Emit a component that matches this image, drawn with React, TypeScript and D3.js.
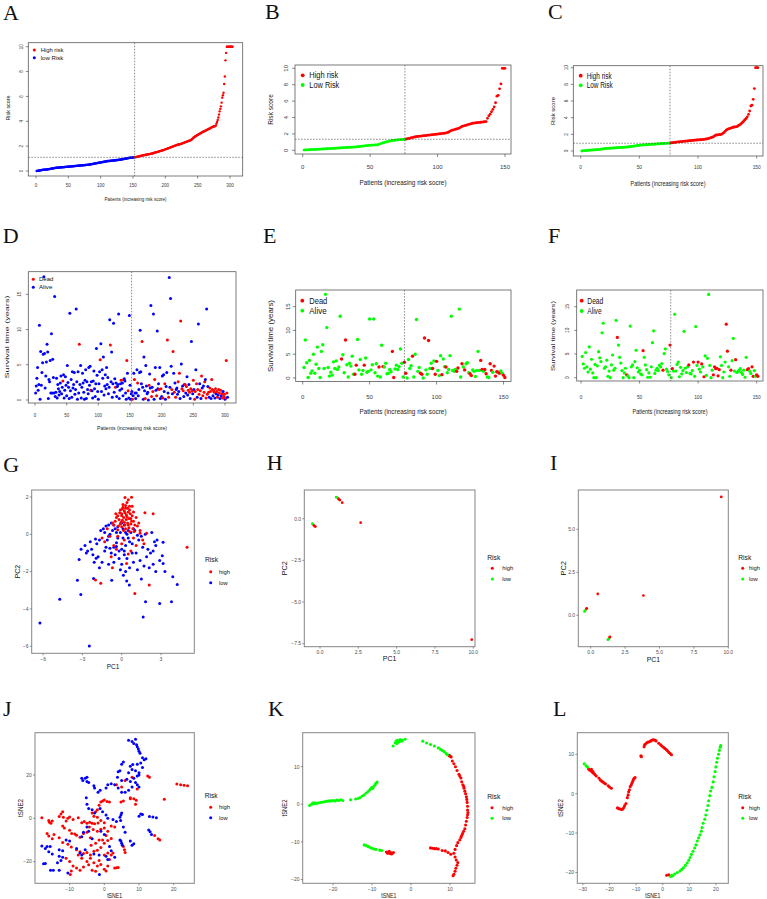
import React from "react";
import * as d3 from "d3";

const RED = "#FF0000";
const BLUE = "#0000FF";
const GREEN = "#00FF00";
const SANS = "'Liberation Sans', Arial, Helvetica, sans-serif";
const SERIF = "'Liberation Serif', 'Times New Roman', Times, serif";

// ---------- A : risk score (training set) ----------
const aLow = [0,.01,.02,.03,.04,.05,.06,.07,.08,.09,.1,.1,.11,.11,.12,.12,.13,.14,.14,.15,
.16,.17,.18,.19,.2,.21,.22,.23,.24,.25,.26,.26,.27,.27,.28,.28,.29,.29,.3,.3,
.3,.31,.31,.32,.32,.33,.33,.34,.34,.35,.35,.36,.36,.37,.37,.38,.38,.39,.39,.4,
.4,.41,.41,.42,.42,.43,.43,.44,.44,.45,.45,.46,.46,.47,.47,.48,.48,.49,.49,.5,
.5,.51,.52,.53,.54,.55,.56,.57,.58,.59,.6,.61,.62,.63,.64,.65,.66,.67,.68,.69,
.7,.71,.72,.73,.74,.75,.76,.77,.78,.79,.8,.8,.81,.81,.82,.82,.83,.83,.84,.85,
.85,.86,.86,.87,.88,.88,.89,.9,.9,.91,.92,.93,.94,.95,.96,.97,.98,.99,1,1.01,
1.02,1.03,1.04,1.05,1.06,1.06,1.07,1.08,1.08,1.09,1.1,1.1];
const aHigh = [1.11,1.12,1.13,1.14,1.15,1.16,1.18,1.2,
1.21,1.22,1.23,1.24,1.26,1.27,1.28,1.29,1.3,1.31,1.32,1.33,1.34,1.35,1.36,1.37,1.38,1.39,1.4,1.41,
1.43,1.45,1.47,1.48,1.5,1.51,1.52,1.54,1.56,1.57,1.59,1.6,1.62,1.64,1.65,1.67,1.68,1.7,1.72,1.74,
1.76,1.78,1.8,1.82,1.84,1.86,1.88,1.9,1.92,1.94,1.96,1.98,2,2.02,2.04,2.06,2.08,2.1,2.12,2.13,
2.14,2.15,2.16,2.18,2.2,2.22,2.24,2.26,2.28,2.3,2.32,2.34,2.36,2.38,2.4,2.42,2.44,2.46,2.48,2.5,
2.55,2.6,2.65,2.7,2.74,2.78,2.8,2.84,2.88,2.9,2.94,2.97,3,3.03,3.06,3.09,3.12,3.15,3.18,3.2,
3.22,3.25,3.28,3.3,3.32,3.35,3.38,3.4,3.43,3.46,3.49,3.52,3.55,3.57,3.58,3.6,3.62,3.65,
3.8,3.95,4.1,4.3,4.55,4.8,5,5.2,5.5,5.9,6.1,6.3,7,7.6,8.9,9.5,
10,10,10,10,10,10,10,10,10,10];

// ---------- B : risk score ----------
const bLow = [.03,.04,.05,.06,.07,.08,.09,.1,.1,.11,.12,.13,.14,.15,.16,.17,.18,.19,.2,.21,
.22,.23,.24,.25,.26,.27,.28,.29,.3,.31,.32,.33,.34,.35,.36,.37,.38,.39,.4,.42,
.44,.46,.48,.5,.52,.54,.56,.58,.6,.61,.62,.63,.64,.65,.66,.7,.76,.82,.88,.93,
.98,1.02,1.06,1.1,1.14,1.17,1.2,1.22,1.24,1.26,1.28,1.3,1.31,1.32,1.33,1.34];
const bHigh = [1.38,1.42,1.46,1.5,1.54,1.58,1.62,1.66,1.68,1.7,1.72,1.74,1.76,1.78,1.8,1.82,1.84,1.86,1.88,1.9,
1.92,1.94,1.96,1.98,2,2.02,2.04,2.06,2.08,2.1,2.15,2.2,2.3,2.4,2.45,2.5,2.55,2.6,2.65,2.7,
2.8,2.9,2.95,3,3.05,3.1,3.15,3.2,3.25,3.3,3.32,3.34,3.36,3.38,3.4,3.42,3.44,3.46,3.48,3.5,
3.9,4.2,4.4,4.7,5,5.3,5.8,6.6,6.7,7.5,8.1,10,10,10];

// ---------- C : risk score ----------
const cLow = [0,.02,.04,.05,.06,.08,.09,.1,.11,.12,.13,.14,.15,.16,.17,.19,.21,.23,.25,.27,
.29,.3,.31,.32,.33,.34,.35,.36,.37,.38,.39,.4,.41,.42,.43,.44,.45,.46,.47,.48,
.5,.52,.54,.56,.58,.6,.62,.64,.66,.68,.7,.71,.72,.73,.74,.75,.76,.77,.78,.79,
.8,.81,.82,.83,.84,.85,.86,.87,.88,.89,.9,.91,.92,.93,.94,.95];
const cHigh = [.97,.99,1.01,1.03,1.05,1.07,1.09,1.1,1.12,1.13,1.15,1.16,1.18,1.19,1.2,1.22,1.24,1.25,1.27,1.28,
1.3,1.31,1.32,1.33,1.34,1.35,1.36,1.38,1.4,1.42,1.44,1.46,1.5,1.55,1.6,1.65,1.7,1.8,1.9,1.92,
1.94,1.96,1.98,2,2.1,2.2,2.35,2.5,2.6,2.65,2.7,2.75,2.8,2.85,2.88,2.9,2.92,3,3.1,3.2,
3.3,3.45,3.6,3.75,3.9,4.1,4.4,4.8,5.4,5.5,6.2,7.5,10,10,10];

// ---------- D : survival time (years) ----------
const dTime = [1.0,2.0,3.1,4.6,1.4,2.2,10.6,0.1,6.9,2.1,3.9,5.3,6.5,17.5,6.6,1.7,
3.4,5.4,7.9,6.8,0.2,2.9,2.6,5.6,1.0,9.4,1.0,5.8,3.2,1.0,14.7,0.5,
1.1,3.1,0.3,2.2,1.6,0.7,1.2,2.4,3.4,0.9,1.8,2.7,3.6,0.3,1.4,3.3,
2.1,0.6,4.9,2.5,1.8,0.2,12.3,1.3,2.9,0.4,4.0,1.7,2.2,3.9,0.8,1.5,
12.9,2.6,0.1,4.0,1.0,7.9,2.2,4.9,0.3,1.8,3.8,2.4,1.1,0.1,2.8,4.3,
0.2,2.6,1.5,0.9,4.6,2.1,4.8,1.4,2.6,1.3,0.3,2.7,4.1,1.6,0.5,2.3,
7.3,3.5,1.2,0.1,2.3,4.0,5.7,8.0,1.2,4.3,3.1,6.1,0.7,2.0,3.6,1.6,
4.6,2.2,3.2,0.9,1.8,11.4,7.8,2.6,6.8,0.4,2.3,10.9,1.1,3.0,1.8,2.4,
0.5,1.9,2.2,12.2,0.2,1.4,2.3,2.8,1.6,2.4,0.6,2.9,3.0,2.7,1.0,0.1,
5.6,3.8,1.3,0.3,12.0,2.1,0.1,0.9,1.2,0.1,0.6,3.8,2.9,1.0,0.2,1.0,
4.3,2.4,0.6,1.5,3.9,9.9,4.0,2.3,8.3,1.8,0.1,6.1,1.3,0.2,4.9,2.0,
0.9,1.1,0.0,2.1,3.7,1.7,13.4,0.5,1.8,1.2,12.2,0.1,2.9,4.6,1.4,0.6,
9.8,1.6,2.3,1.5,4.6,0.2,1.6,0.5,3.4,0.3,3.6,1.2,2.3,0.1,1.9,3.9,
8.5,1.0,0.4,17.4,1.8,14.4,4.8,1.5,0.9,6.9,3.8,1.1,2.4,0.4,1.5,1.7,
0.8,2.6,1.2,3.8,0.2,11.2,5.1,1.6,2.0,1.3,0.5,2.2,2.2,1.0,1.9,3.3,
0.7,1.4,2.2,1.1,0.2,1.6,8.3,1.3,0.9,2.8,1.5,0.1,1.2,4.3,2.3,0.4,
1.5,10.8,0.8,2.3,1.3,0.2,3.4,1.7,0.6,2.0,1.1,2.6,2.9,0.3,12.9,0.8,
1.9,1.1,0.4,1.7,1.2,0.2,2.9,1.5,0.6,1.3,1.1,0.3,1.6,0.9,1.2,0.4,
0.7,1.5,1.0,0.2,1.4,0.6,0.9,0.3,1.2,0.5,0.8,0.1,0.3,5.6,1.0,0.4];
const dDead = [44,70,88,103,119,127,136,140,145,147,154,157,162,169,174,180,184,186,189,192,196,199,202,205,209,
211,216,218,220,222,226,228,230,232,234,237,239,242,244,246,248,250,252,253,255,257,259,261,263,265,267,268,
270,272,274,276,277,279,280,282,283,285,287,288,290,291,293,295,296,298,299,301,302,303];

// ---------- E : survival time ----------
const eTime = [2.2,8.0,3.2,0.1,3.7,1.0,1.5,5.0,1.0,2.9,6.5,2.0,0.1,5.6,7.0,2.0,17.6,10.6,2.2,0.4,
1.2,0.6,3.4,2.0,3.6,1.8,2.3,13.0,4.0,4.9,1.1,8.0,2.8,0.2,3.1,2.5,4.6,0.8,0.8,2.7,
8.1,1.7,3.9,0.8,1.6,2.7,4.2,1.2,1.4,12.4,1.7,2.8,12.4,1.1,3.0,0.4,2.3,0.2,6.9,2.4,
2.3,3.1,0.9,1.0,1.8,1.3,5.6,0.1,1.9,2.7,1.8,2.4,6.1,3.1,0.2,3.3,
1.0,0.0,3.9,2.0,2.6,4.6,0.2,5.0,12.3,1.4,2.2,1.0,0.8,0.0,8.4,1.7,0.8,7.9,2.0,3.1,
2.0,3.6,0.8,3.5,1.6,0.5,4.7,0.7,4.0,2.4,2.3,1.1,1.8,4.7,13.0,1.6,1.4,1.8,1.4,2.1,
14.5,0.2,3.0,2.3,1.7,3.0,3.2,1.1,0.9,0.5,1.7,1.4,0.3,1.6,5.6,1.6,3.7,1.8,1.4,1.8,
0.9,0.2,0.1,3.0,1.6,1.2,2.5,0.4,1.3,1.2,1.0,1.5,1.0,0.6,0.1];
const eDead = [29,32,39,40,46,57,60,67,68,76,77,82,88,89,91,94,97,99,100,104,107,115,116,119,121,125,126,
133,134,136,137,140,141,143,144,145,146,147,150,151];

// ---------- F : survival time ----------
const fTime = [4.5,2.9,2.0,5.3,2.3,1.2,6.5,1.8,3.9,1.0,0.0,2.8,0.0,2.5,5.5,4.2,3.4,9.5,11.5,2.0,
2.3,3.7,0.3,1.4,0.0,2.7,4.8,1.6,2.0,12.1,8.5,6.9,4.3,3.1,1.5,0.0,1.0,2.0,0.6,0.4,
0.0,10.9,2.3,2.7,0.0,3.4,5.8,2.1,1.2,1.6,0.8,0.6,5.7,4.3,2.7,1.7,0.1,1.0,0.1,2.3,
7.4,9.9,0.9,1.6,2.0,1.5,2.6,2.3,3.0,1.6,5.1,6.1,1.8,1.3,0.6,6.9,
0.0,1.9,1.4,13.4,1.4,2.8,3.3,0.2,2.2,0.8,1.5,9.8,2.0,1.1,2.3,2.7,0.9,0.8,1.5,3.3,
0.3,10.8,2.6,3.3,1.8,1.2,2.9,2.3,0.2,4.6,0.5,4.1,17.6,2.6,0.0,1.6,0.6,2.3,1.9,2.0,
0.4,1.7,4.4,2.6,0.0,1.2,3.3,11.3,5.6,2.3,0.3,1.6,3.6,8.3,1.4,3.8,1.1,1.3,1.6,1.9,
1.1,0.7,1.6,0.1,4.3,1.7,1.9,1.4,0.9,2.3,0.3,1.5,0.3,0.6,0.3];
const fDead = [31,39,53,70,76,78,92,96,100,103,105,113,114,115,116,117,118,124,125,128,132,142,143,146,147,150,151];

// ---------- G : PCA ----------
const gHigh = [[0.25,1.97],[0.75,1.99],[0.1,1.6],[0.4,1.7],[-0.1,1.3],[0.3,1.4],[0.6,1.5],[0,1.1],[0.5,1.2],[0.2,1.25],
[-0.3,1],[0.8,1],[0.35,1.05],[0.15,0.9],[-0.2,0.8],[0.55,0.85],[0.9,0.7],[-0.5,0.7],[0.05,0.75],[0.7,0.55],
[-0.4,0.9],[0.45,0.6],[0.25,0.5],[-0.1,0.55],[1,0.5],[1.2,0.45],[-0.6,0.5],[0.6,1.3],[0.3,0.3],[0,0.4],
[-0.3,0.25],[0.85,0.3],[0.4,0.95],[0.1,1.45],[0.65,1.1],[0.2,0.65],[-0.15,1.15],[0.5,1.85],[0.3,1.55],[0,1],
[0.9,1.2],[1.1,0.9],[-0.7,0.6],[0.7,0.85],[0.15,0.2],[0.55,0.35],[-0.25,0.45],[0.35,0.8],[1.3,0.6],[0.95,0.15],
[0.45,1.4],[-0.05,0.65],[0.75,0.7],[0.25,1.15],[0.6,0.15],[0.05,1.35],[0.5,0.5],[-0.45,1.1],[1.4,0.2],[0.8,1.5],
[1.77,1.16],[2.4,1.1],[4.99,-0.7],[1,-3.17],[2.1,-2.72],[-0.71,-1.8],[-2,-2.45],[-1.6,-2.63],[0.37,-1.56],[0.5,-1.06],
[1.7,-0.5],[1.6,-0.3],[1.4,0.05],[-0.9,-0.1],[-1.5,-0.2],[-0.6,-0.6],[0.2,-0.3],[-0.4,-0.8],[0.9,-0.2],[-1.1,0.3],
[-0.8,-1.2],[1.9,0.05],[1.1,-0.6],[-1.3,-0.4],[0,-0.5],[0.7,-0.9],[-0.3,-0.1]];
const gLow = [[-6.24,-4.75],[-2.47,-5.99],[-4.73,-3.48],[-3.12,-3.23],[-3.38,-2.47],[-3.25,-1.35],[1.64,-4.43],[1.82,-3.62],[2.9,-3.71],[3.8,-3.62],
[4.24,-2.69],[3.9,-2.28],[3.16,-1.56],[3.16,-0.43],[0.13,-2.2],[0.38,-2.5],[0.58,-2.72],[-0.76,-2.46],[-2.15,-2.37],[-1.95,-1.29],
[-2.8,-0.6],[-2.6,-0.9],[-2.7,-1],[-2.3,-0.8],[-1.9,-0.5],[-2,-0.25],[-1.6,0.2],[-1.4,0.3],[-1.2,0.45],[-1,0.5],
[-0.8,0.6],[-1.5,-1.5],[-1.7,-1.8],[-1.2,-0.7],[-0.9,-0.75],[-0.6,-0.7],[-0.4,-0.45],[-0.2,-1.3],[0,-1.6],[0.2,-0.9],
[0.4,-1.3],[0.6,-1.8],[0.9,-1.5],[1.1,-1],[1.3,-0.3],[1.5,-0.1],[1.8,0],[2,-0.8],[2.2,-1],[2.4,-0.9],
[2.5,-0.4],[2.6,-0.6],[2.4,-1.6],[2.1,-1.8],[2.6,-2],[2.9,-1.4],[3.1,-1.15],[3.3,-2],[1.2,-1.9],[1.5,-2.4],
[-0.3,-0.2],[-0.1,0.1],[0.1,0.3],[0.3,0.1],[0.5,-0.2],[0.7,0.1],[0.9,0.3],[-0.5,0.3],[-0.7,0.2],[-1,-0.1],
[-1.1,-0.3],[-0.3,0.4],[0.2,0.5],[0.5,0.2],[1,0.2],[1.2,-0.05],[0.8,-0.5],[0.6,-0.4],[0.3,-0.6],[0,-0.8],
[-0.2,-0.9],[-0.5,-1.1],[-0.8,-1],[-1.3,-0.9],[-1.8,-1.2],[-2.1,-1.5],[-0.9,0],[-0.6,0.5],[0.1,-0.2],[0.4,0],
[-0.4,-0.65],[1.6,-0.7],[1.9,-1.2],[0.8,-1],[1.4,-1.4],[-0.1,-1.9],[-1,-1.6],[0.2,-1.1],[0,0.6],[-0.4,0.1],
[-1.3,0.1],[-1.7,-0.3],[2.3,0.1],[2.7,-0.3],[1.7,-1.7],[0.3,-2],[-0.6,-1.5],[-2.4,-0.4],[-3.1,-0.8],[-2.2,-1.1]];

// ---------- H, I : PCA ----------
const hLow = [[-0.5,-0.3],[1.09,1.28],[1.05,1.3]];
const hHigh = [[-0.42,-0.38],[-0.36,-0.44],[-0.3,-0.47],[1.2,1.2],[1.25,1.15],[1.3,1.12],[1.45,0.96],[2.65,-0.24],[9.9,-7.26]];
const iLow = [[-0.41,0.27],[-0.45,0.22],[1.3,-1.38],[1.25,-1.42]];
const iHigh = [[-0.29,0.41],[-0.32,0.36],[0.51,1.24],[3.83,1.15],[9.49,6.88],[1.4,-1.25],[1.36,-1.3]];

// ---------- J : tSNE ----------
const jHigh = [[-18,0.3],[-16,-1],[-15.8,-1.8],[-15.4,-2.3],[-15,-1.2],[-13,0.8],[-12.5,2],[-12,3],[-11.8,0.5],[-11,-1.3],
[-10.5,0],[-10,0.6],[-9,-0.5],[-7.5,0.2],[-6.5,-2],[-5.8,-1.5],[-5,-2.3],[-4.2,-1.8],[-3.5,-2.3],[-2.8,-2.5],
[-1.8,-2.2],[-12,-3.5],[-11.5,-4.5],[-10,-5.5],[-9.4,-7],[-8.5,-7.2],[-8,-7.8],[-7,-8.8],[-6,-7],[-5,-6.5],
[-4.3,-4],[-3.2,-5.2],[-2,-6],[-1,-5],[0,-4.5],[1,-6],[-16.5,-7],[-16,-8.2],[-15,-9.4],[-14.5,-7.5],
[-13,-9],[-12,-11.2],[-10.5,-12],[-9.5,-13.2],[-8,-14.5],[-7,-15.5],[-6,-16.3],[-5,-15.8],[-4,-17],[-3,-15.2],
[-2,-14.8],[-1,-13.5],[0,-11.5],[1,-10.2],[2,-9.3],[-1.5,-10],[-2.5,-11.5],[-3.8,-12.5],[-11,-18.5],[-10,-20],
[-9,-22],[-8,-23],[-9.5,-24.3],[-9.8,-26],[-7,-24],[-6,-22.5],[-5,-20],[-4,-18.5],[-3,-20.5],[-2,-22],
[-1,-21.3],[0,-23.5],[0.5,-24.3],[1,-22],[1.5,-19],[2,-17],[2.5,-16],[3,-23],[3.5,-22.8],[4,-22.7],
[-7.5,-17],[-6.5,-18.5],[-4.5,-21.5],[-3.5,-24],[-2.5,-24.5],[-1.5,-19.5],[0,-17],[1,-16],[-0.5,-10],[0.5,-8],
[-3,1],[-2.5,3],[-2,4],[-1.5,6],[-1,7.5],[-0.5,8],[0,8.5],[0.8,7.8],[1.5,7.5],[-3.5,2.5],
[-2,0.5],[-1,-1],[0,-2],[2,-3.5],[3,-4],[4.8,7.5],[5.5,8],[7.5,9.5],[8.5,9],[9.2,8.3],
[9,6.5],[5,14.5],[3.5,15.5],[6,17.5],[8,19],[12.5,19.5],[13,19],[9.5,13.5],[20.9,15.8],[22,15.5],
[23,15.3],[24,15],[17.3,8.8],[15.5,-9.5],[16,-10],[14.5,-8],[5.5,-13],[5.8,-14.5],[6,-15.8],[7.5,9],[-4,-9]];
const jLow = [[7,36],[8,35.5],[8.5,34.5],[9,36.5],[9.3,34],[9.5,33],[9.8,32],[10,31],[10.3,30],[11,28],
[11.5,27],[12,27.5],[10.5,25.5],[9.5,25],[8.2,24.8],[7.5,24],[11,23.5],[9,22],[8,22.5],[10,21],
[7,21],[5.5,26],[5,25],[4.5,22],[4,21.5],[3.8,19],[5,17.5],[6.5,18],[7.5,17],[8.5,18.5],
[9.5,19.5],[10,20],[9,16.5],[9.5,15.5],[10,14.5],[8,14.5],[7,13],[6,12],[5,12],[4,14],
[3,15.5],[2,16],[1,15.5],[0.5,14],[-1.2,13],[-1.8,12],[-2.8,14],[-3,15],[-5,19],[-5.5,18.5],
[-6.2,17.5],[-6.5,18.5],[-5,17],[-4.5,16.5],[-5.2,9.5],[-5,6.5],[-4.5,4.5],[-3.5,4],[-2.8,2.5],[-1.2,4.5],
[-0.5,3],[0.5,1.5],[1,0],[2.5,-0.5],[3.5,-1.5],[4.5,0.5],[4.8,1.5],[5,2.5],[4.7,-1],[10,1],
[10.5,2],[11,1.8],[13,0.8],[14,0.6],[15,0.2],[12.8,-5.4],[13.2,-6.2],[13.6,-7.5],[8.5,-11.8],[8,-12.5],
[4.5,-10],[5,-11.5],[5.2,-12.5],[4.8,-10.5],[-5,-4],[-4.5,-6],[-3.5,-9.5],[-6,-6.5],[-6.5,-8.5],[-12,-15],
[-13,-14.5],[-15.6,-13],[-16.5,-13],[-17,-14],[-18,-12.8],[-16,-15.5],[-15,-16.5],[-13,-17.5],[-12,-18],[-12.5,-19.5],
[-13.5,-20.5],[-17,-20.9],[-17.5,-21],[-14.7,-24],[-15.5,-24],[-13,-24],[-10.5,-25.3],[-1.4,-26],[-11,-10],[-10,-10.5],
[-8,-14],[-7,-16],[-6.5,-17],[-5.5,-14.5],[-3,-16.5],[-1.5,-17],[0.5,-17.5],[1,-19],[-1,-6],[0,-7.5],
[1.5,-13],[2,-15],[3,-18],[7.5,-10.5],[5.5,-4],[6,-6.5]];

// ---------- K : tSNE ----------
const kLow = [[-26,-0.3],[-25.5,0],[-25.2,0.3],[-25,0.1],[-24.8,0.4],[-24.5,0.2],[-24,0.3],[-23.5,0.4],[-23,0.5],[-22.5,0.6],
[-22,0.7],[-21.5,0.8],[-21,0.9],[-20.5,0.9],[-20,1],[-19.5,0.9],[-19,1.1],[-18.5,1],[-18,1.2],[-17.5,1],
[-15.5,1.2],[-14.2,1.4],[-13.5,1.6],[-13,1.8],[-12.5,2.2],[-12,2.5],[-11.5,3],[-11,3.4],[-10.6,3.8],[-10.3,4.2],
[-10,4.5],[-9.8,4.2],[-9.5,4.8],[-9.2,5.2],[-9,5.6],[-8.7,5.9],
[-4.6,15.5],[-4,16.3],[-3.8,16.8],[-3.5,17],[-3.2,16.5],[-3,16.9],[-2.8,17.2],[-2.5,16.8],[-2.2,17],[-1.5,17.3],[-3.6,16.2],
[3,16.8],[4,16.3],[5,15.9],[6,15.5],[7,15],[7.6,14.6],[8,14.3],[8.5,14],[9,13.5],[9.3,13.2],
[-12,-10.8],[-11.5,-11],[-11,-11.2],[-10.5,-11.5],[-10,-11.7],[-9.5,-11.9],[-9,-12],[-8,-12.2],[-7.5,-12.3]];
const kHigh = [[9.8,13],[10,12.8],[10.3,12.6],[10.6,11.5],[11,10.8],[11.4,10],[11.8,9],[12.3,8],[12.5,7.5],[12.8,7],
[13,6],[13.3,5.2],[13.5,4.8],[13.6,4.3],[13.8,3.5],[14,2.8],[14.2,2],[14.3,1.3],[14.4,0.5],[14.5,-0.5],
[14.5,-1.5],[14.6,-2.2],[14.5,-2.8],[14.4,-3.5],[14.2,-4.5],[14,-5.5],[13.8,-6.5],[13.5,-7.2],[13.2,-7.8],[13,-8.3],
[12.8,-8.8],[12.5,-9.5],[12,-10.2],[11.7,-11],[11.3,-12],[11,-13],[11.3,-14],[11.6,-14.8],[12,-15.5],[11.8,-16.2],
[11.5,-17],[11.3,-17.8],[11,-18.6],[10.8,-19],
[5,-11.6],[5.5,-11.7],[6,-11.8],[6.5,-11.8],[7,-11.9],[8,-12.3],[8.8,-12.4],[9.5,-12.8],[10.2,-13.3],
[-6.3,-12.7],[-6,-13],[-5.7,-12.8],[-5.4,-13.1],[-5.1,-12.9],[-4.8,-13],[-4.5,-12.8],[-5.6,-12.5],[-5,-13.2]];

// ---------- L : tSNE ----------
const lHigh = [[-27.9,6.3],[-27.5,6],[-27,5.8],[-26.5,5.5],[-26,5.2],[-25.5,4.9],[-25,4.5],[-24,4],[-23.5,3.5],[-23,3.2],
[-22.5,3],[-22,2.7],[-21.5,2.5],[-20.5,2],[-20,1.7],[-19.3,1.4],[-26.8,6.2],[-26.2,5.6],
[-17,-3.6],[-16.5,-3.8],[-16,-3.9],[-15.5,-4],[-15,-3.9],[-14.6,-3.5],[-14.3,-3],[-13.8,-2.5],[-13.3,-1],[-13,-0.3],
[-12.8,0.5],[-12.5,1],[-12.2,1.8],[-11.8,2.3],[-11.5,2.8],[-11.2,3.2],[-11,3.6],[-10.7,3.9],[-10.4,4.1],
[-8.2,9.6],[-8,9.4],
[-7,11.9],[-6.8,12.4],[-6.5,12.6],[-6,12.9],[-5.5,13.1],[-5,13.2],[-4.5,13.4],[-4,13.6],[-3.5,13.7],[-3,13.6],
[-2.5,13.4],[-1.5,12.8],[-0.8,12.4],[-0.3,12.1],[0.3,11.8],[0.8,11.5],[1.3,11.2],[1.8,10.9],[2.3,10.5],[2.8,10.2],[3.3,9.9],
[1.5,-20.7],[2.3,-20.6]];
const lLow = [[-29.5,7.6],[-28.8,7.1],[-28.3,6.8],
[3.4,-20.7],[3,-21],[3.8,-20.9],[4.5,-20.4],[5.5,-20],[6.5,-19.6],[7.2,-19.2],[7.8,-18.8],[8.5,-18.2],[9.2,-17.6],
[9.8,-16.9],[10.3,-16.2],[10.8,-15.4],[11.4,-14.6],[12,-13.8],[12.5,-13],[13,-12],[13.5,-11.2],[14,-10.4],[14.5,-9.5],
[14.8,-8.6],[15.2,-7.5],[15.8,-6.5],[16.2,-5.4],[16.6,-4.2],[17,-3],[17.3,-1.8],[17.7,-0.5],[18,0.7],[18.5,1.6],
[19,3],[19.3,4.3],[19.7,5.6],[20,6.8],[20.3,8],[20.6,9],[21,10],[21.3,11],[21.6,11.8],[21.8,12.2]];

// ---------- tick values ----------
const ticks300 = [0, 50, 100, 150, 200, 250, 300];
const ticks150 = [0, 50, 100, 150];
const riskTicks = [0, 2, 4, 6, 8, 10];
const survTicks = [0, 5, 10, 15];
const gXT = [-6, -3, 0, 3];
const gYT = [-6, -4, -2, 0, 2];
const pcXT = [0, 2.5, 5, 7.5, 10];
const hYT = [-7.5, -5, -2.5, 0];
const iYT = [0, 2.5, 5];
const jXT = [-10, 0, 10, 20];
const jYT = [-20, 0, 20];
const kXT = [-20, -10, 0, 10];
const kYT = [-20, -10, 0, 10];
const lXT = [-30, -20, -10, 0, 10, 20];
const lYT = [-20, -10, 0, 10];

const fmt1 = (v: number) => d3.format(".1f")(v).replace("-", "\u2212");
const fmt0 = (v: number) => String(v).replace("-", "\u2212");

function Txt({ x, y, size, len, anchor = "middle", rot = false, fill = "#000", family = SANS, children }: any) {
  const common: any = {
    fontSize: size, fontFamily: family, fill, textAnchor: anchor,
  };
  if (len) { common.textLength = len; common.lengthAdjust = "spacingAndGlyphs"; }
  if (rot) return <text transform={`translate(${x},${y}) rotate(-90)`} {...common}>{children}</text>;
  return <text x={x} y={y} {...common}>{children}</text>;
}

function RPlot({ p, pts }: any) {
  const [x0, y0, x1, y1] = p.box;
  const xs = d3.scaleLinear().domain([p.xm[0], p.xm[2]]).range([p.xm[1], p.xm[3]]);
  const ys = d3.scaleLinear().domain([p.ym[0], p.ym[2]]).range([p.ym[1], p.ym[3]]);
  const ac = "#3a3a3a";
  const lg = p.legend;
  return (
    <g>
      {pts.map((d: any, i: number) => (
        <circle key={i} cx={xs(d.x)} cy={ys(d.y)} r={p.r} fill={d.c} />
      ))}
      {p.hLine != null && (
        <line x1={x0} x2={x1} y1={ys(p.hLine)} y2={ys(p.hLine)} stroke="#444" strokeWidth={0.6} strokeDasharray="1.6,1.4" />
      )}
      {p.vLine != null && (
        <line x1={xs(p.vLine)} x2={xs(p.vLine)} y1={y0} y2={y1} stroke="#444" strokeWidth={0.6} strokeDasharray="1.6,1.4" />
      )}
      <rect x={x0} y={y0} width={x1 - x0} height={y1 - y0} fill="none" stroke="#5a5a5a" strokeWidth={0.8} />
      {p.xTicks.map((t: number) => (
        <g key={"x" + t}>
          <line x1={xs(t)} x2={xs(t)} y1={y1} y2={y1 + p.tl} stroke={ac} strokeWidth={0.6} />
          <Txt x={xs(t)} y={p.xLabY} size={p.ts} fill={ac}>{t}</Txt>
        </g>
      ))}
      {p.yTicks.map((t: number) => (
        <g key={"y" + t}>
          <line x1={x0 - p.tl} x2={x0} y1={ys(t)} y2={ys(t)} stroke={ac} strokeWidth={0.6} />
          <Txt x={p.yLabX} y={ys(t)} size={p.ts} fill={ac} rot>{t}</Txt>
        </g>
      ))}
      {lg.items.map((it: any, i: number) => (
        <g key={"l" + i}>
          <circle cx={lg.dotX} cy={lg.ys[i]} r={lg.r} fill={it.color} />
          <Txt x={lg.textX} y={lg.ys[i] + lg.size * 0.36} size={lg.size} len={it.len} anchor="start" fill="#111">{it.label}</Txt>
        </g>
      ))}
      <Txt x={p.xTitle.x} y={p.xTitle.y} size={p.xTitle.size} len={p.xTitle.len} fill="#222">{p.xTitle.text}</Txt>
      <Txt x={p.yTitle.x} y={p.yTitle.y} size={p.yTitle.size} len={p.yTitle.len} fill="#222" rot>{p.yTitle.text}</Txt>
    </g>
  );
}

function GPlot({ p, series }: any) {
  const [x0, y0, x1, y1] = p.box;
  const xs = d3.scaleLinear().domain([p.xm[0], p.xm[2]]).range([p.xm[1], p.xm[3]]);
  const ys = d3.scaleLinear().domain([p.ym[0], p.ym[2]]).range([p.ym[1], p.ym[3]]);
  const tc = "#4d4d4d";
  const lg = p.legend;
  return (
    <g>
      <rect x={x0} y={y0} width={x1 - x0} height={y1 - y0} fill="#fff" />
      {series.map((s: any, si: number) =>
        s.pts.map((d: number[], i: number) => (
          <circle key={si + "-" + i} cx={xs(d[0])} cy={ys(d[1])} r={p.r} fill={s.color} />
        ))
      )}
      <rect x={x0} y={y0} width={x1 - x0} height={y1 - y0} fill="none" stroke="#858585" strokeWidth={1} />
      {p.xTicks.map((t: number) => (
        <g key={"x" + t}>
          <line x1={xs(t)} x2={xs(t)} y1={y1} y2={y1 + 2} stroke="#555" strokeWidth={0.6} />
          <Txt x={xs(t)} y={y1 + 7.2} size={5} fill={tc}>{p.fmt(t)}</Txt>
        </g>
      ))}
      {p.yTicks.map((t: number) => (
        <g key={"y" + t}>
          <line x1={x0 - 2} x2={x0} y1={ys(t)} y2={ys(t)} stroke="#555" strokeWidth={0.6} />
          <Txt x={x0 - 3.2} y={ys(t) + 1.8} size={5} fill={tc} anchor="end">{p.fmt(t)}</Txt>
        </g>
      ))}
      <Txt x={(x0 + x1) / 2} y={p.xTitle.y} size={7} len={p.xTitle.len} fill="#111">{p.xTitle.text}</Txt>
      <Txt x={p.yTitle.x} y={(y0 + y1) / 2} size={7} len={p.yTitle.len} fill="#111" rot>{p.yTitle.text}</Txt>
      <Txt x={lg.titleX} y={lg.titleY} size={7} len={13} anchor="start" fill="#111">Risk</Txt>
      {lg.items.map((it: any, i: number) => (
        <g key={"l" + i}>
          <circle cx={lg.dotX} cy={lg.ys[i]} r={1.5} fill={it.color} />
          <Txt x={lg.textX} y={lg.ys[i] + 1.9} size={5.5} len={it.len} anchor="start" fill="#111">{it.label}</Txt>
        </g>
      ))}
    </g>
  );
}

const riskPts = (low: number[], high: number[], lowColor: string) =>
  low.concat(high).map((v, i) => ({ x: i + 1, y: v, c: i < low.length ? lowColor : RED }));
const survPts = (times: number[], dead: number[], aliveColor: string) => {
  const ds = new Set(dead);
  return times.map((v, i) => ({ x: i + 1, y: v, c: ds.has(i + 1) ? RED : aliveColor }));
};

const letters = [
  ["A", 3, 19.5], ["B", 265, 19.3], ["C", 548, 19.3],
  ["D", 2.7, 243.3], ["E", 263, 243.3], ["F", 548, 243.3],
  ["G", 3.3, 471.7], ["H", 266.7, 470], ["I", 550, 470],
  ["J", 3, 716], ["K", 268, 716], ["L", 553, 716],
];

export default function App() {
  const pA = {
    box: [28.3, 42.7, 242.7, 176], xm: [0, 36, 300, 230], ym: [0, 171, 10, 46.7],
    xTicks: ticks300, yTicks: riskTicks, r: 1.2, hLine: 1.1, vLine: 152.5,
    ts: 4.5, xLabY: 187, yLabX: 22.5, tl: 2.5,
    xTitle: { text: "Patients (increasing risk score)", x: 135.5, y: 200.5, size: 5.5, len: 62 },
    yTitle: { text: "Risk score", x: 9.5, y: 108, size: 5.5, len: 25 },
    legend: { dotX: 34.3, textX: 40.7, ys: [50, 57.7], size: 6, r: 1.5,
      items: [{ label: "High risk", color: RED, len: 22.7 }, { label: "low Risk", color: BLUE, len: 22.7 }] },
  };
  const pB = {
    box: [295, 65, 511, 154], xm: [0, 302.7, 150, 505], ym: [0, 150.3, 10, 68.3],
    xTicks: ticks150, yTicks: riskTicks, r: 1.4, hLine: 1.34, vLine: 75.8,
    ts: 6, xLabY: 168.5, yLabX: 287.5, tl: 3,
    xTitle: { text: "Patients (increasing risk socre)", x: 403, y: 185, size: 7, len: 87 },
    yTitle: { text: "Risk score", x: 272.5, y: 109.5, size: 6.5, len: 30.7 },
    legend: { dotX: 302.7, textX: 309.3, ys: [75.3, 85], size: 8.5, r: 1.9,
      items: [{ label: "High risk", color: RED, len: 29 }, { label: "Low Risk", color: GREEN, len: 30 }] },
  };
  const pC = {
    box: [573.3, 65.7, 763, 156], xm: [0, 580.7, 150, 756.7], ym: [0, 151, 10, 67.7],
    xTicks: ticks150, yTicks: riskTicks, r: 1.4, hLine: 0.93, vLine: 76.1,
    ts: 4.8, xLabY: 169, yLabX: 567.5, tl: 2.5,
    xTitle: { text: "Patients (increasing risk score)", x: 668, y: 185.5, size: 6.5, len: 75 },
    yTitle: { text: "Risk score", x: 555, y: 111, size: 6, len: 28 },
    legend: { dotX: 580.7, textX: 586.7, ys: [75.7, 85.3], size: 8.5, r: 1.9,
      items: [{ label: "High risk", color: RED, len: 25 }, { label: "Low Risk", color: GREEN, len: 26 }] },
  };
  const pD = {
    box: [28.3, 271.7, 236, 403], xm: [0, 35, 300, 225], ym: [0, 400, 15, 294.3],
    xTicks: ticks300, yTicks: survTicks, r: 1.5, vLine: 152.5,
    ts: 4.5, xLabY: 416.5, yLabX: 21, tl: 2.5,
    xTitle: { text: "Patients (increasing risk score)", x: 132, y: 429.5, size: 6, len: 70 },
    yTitle: { text: "Survival time (years)", x: 9, y: 337, size: 6, len: 83 },
    legend: { dotX: 33.3, textX: 39, ys: [279.3, 287.3], size: 6, r: 1.5,
      items: [{ label: "Dead", color: RED, len: 14.3 }, { label: "Alive", color: BLUE, len: 13.3 }] },
  };
  const pE = {
    box: [295.7, 290, 511, 381.5], xm: [0, 302.7, 150, 503.5], ym: [0, 378, 15, 306.7],
    xTicks: ticks150, yTicks: survTicks, r: 1.7, vLine: 76,
    ts: 6, xLabY: 398.5, yLabX: 290, tl: 3,
    xTitle: { text: "Patients (increasing risk socre)", x: 403, y: 414, size: 7, len: 87 },
    yTitle: { text: "Survival time (years)", x: 272.5, y: 336, size: 6.5, len: 72 },
    legend: { dotX: 302.3, textX: 309.3, ys: [300.7, 310.7], size: 8.5, r: 1.9,
      items: [{ label: "Dead", color: RED, len: 18 }, { label: "Alive", color: GREEN, len: 17.3 }] },
  };
  const pF = {
    box: [576.7, 290, 763, 381], xm: [0, 581, 150, 756.7], ym: [0, 377.7, 15, 306.7],
    xTicks: ticks150, yTicks: survTicks, r: 1.6, vLine: 76.6,
    ts: 4.8, xLabY: 398.5, yLabX: 568.5, tl: 2.5,
    xTitle: { text: "Patients (increasing risk score)", x: 670, y: 414, size: 6.5, len: 75 },
    yTitle: { text: "Survival time (years)", x: 555, y: 336, size: 6, len: 70 },
    legend: { dotX: 581.7, textX: 587.3, ys: [300.7, 311], size: 8.5, r: 1.9,
      items: [{ label: "Dead", color: RED, len: 16 }, { label: "Alive", color: GREEN, len: 14.3 }] },
  };

  const legGreen = (tx: number, ty: number, dx: number, txx: number, ys: number[]) => ({
    titleX: tx, titleY: ty, dotX: dx, textX: txx, ys,
    items: [{ label: "high", color: RED, len: 11 }, { label: "low", color: GREEN, len: 8.7 }],
  });

  const pG = {
    box: [31.7, 490, 194.3, 653.3], xm: [0, 121.7, 3, 161], ym: [0, 534.3, 2, 497],
    xTicks: gXT, yTicks: gYT, r: 1.5, fmt: fmt0,
    xTitle: { text: "PC1", y: 669, len: 12.7 }, yTitle: { text: "PC2", x: 20, len: 13.3 },
    legend: { titleX: 205, titleY: 562, dotX: 210.7, textX: 219, ys: [571.7, 582.7],
      items: [{ label: "high", color: RED, len: 11 }, { label: "low", color: BLUE, len: 8.7 }] },
  };
  const pH = {
    box: [304.3, 490, 475, 646.7], xm: [0, 320, 10, 473.3], ym: [0, 518.7, -5, 602],
    xTicks: pcXT, yTicks: hYT, r: 1.35, fmt: fmt1,
    xTitle: { text: "PC1", y: 660.7, len: 13.7 }, yTitle: { text: "PC2", x: 287, len: 14 },
    legend: legGreen(487.3, 559.5, 492.3, 502.3, [568.3, 579]),
  };
  const pI = {
    box: [578.3, 490, 728.3, 646.7], xm: [0, 590.7, 10, 728.3], ym: [0, 615.3, 5, 529.3],
    xTicks: pcXT, yTicks: iYT, r: 1.35, fmt: fmt1,
    xTitle: { text: "PC1", y: 662, len: 13.3 }, yTitle: { text: "PC2", x: 565.5, len: 14.3 },
    legend: legGreen(738.3, 559.5, 742.7, 749, [568.3, 579]),
  };
  const pJ = {
    box: [35, 732.7, 194.3, 883.3], xm: [0, 104.3, 10, 139], ym: [0, 818.3, 20, 775],
    xTicks: jXT, yTicks: jYT, r: 1.5, fmt: fmt0,
    xTitle: { text: "tSNE1", y: 897.7, len: 15 }, yTitle: { text: "tSNE2", x: 22.5, len: 18 },
    legend: { titleX: 204.7, titleY: 797.7, dotX: 210.7, textX: 219, ys: [807.3, 817.7],
      items: [{ label: "high", color: RED, len: 11 }, { label: "low", color: BLUE, len: 8.7 }] },
  };
  const pK = {
    box: [302.7, 732.7, 475, 883.3], xm: [0, 411, 10, 450], ym: [0, 804.3, 10, 766.7],
    xTicks: kXT, yTicks: kYT, r: 1.55, fmt: fmt0,
    xTitle: { text: "tSNE1", y: 897.7, len: 15 }, yTitle: { text: "tSNE2", x: 287, len: 17 },
    legend: legGreen(487.3, 798.7, 492, 502.3, [807.7, 818.3]),
  };
  const pL = {
    box: [577.3, 732.7, 728.3, 883.3], xm: [0, 662.7, 10, 689.3], ym: [0, 793.7, 10, 754.3],
    xTicks: lXT, yTicks: lYT, r: 1.55, fmt: fmt0,
    xTitle: { text: "tSNE1", y: 897.7, len: 15 }, yTitle: { text: "tSNE2", x: 563, len: 17.7 },
    legend: legGreen(738.3, 798.7, 742.7, 749, [807.7, 818.3]),
  };

  return (
    <svg width={767} height={899} viewBox="0 0 767 899" style={{ position: "absolute", left: 0, top: 0, display: "block" }}>
      <rect x={0} y={0} width={767} height={899} fill="#fff" />
      {letters.map(([t, x, y]: any) => (
        <text key={t} x={x} y={y} fontFamily={SERIF} fontSize={22} fill="#111">{t}</text>
      ))}
      <RPlot p={pA} pts={riskPts(aLow, aHigh, BLUE)} />
      <RPlot p={pB} pts={riskPts(bLow, bHigh, GREEN)} />
      <RPlot p={pC} pts={riskPts(cLow, cHigh, GREEN)} />
      <RPlot p={pD} pts={survPts(dTime, dDead, BLUE)} />
      <RPlot p={pE} pts={survPts(eTime, eDead, GREEN)} />
      <RPlot p={pF} pts={survPts(fTime, fDead, GREEN)} />
      <GPlot p={pG} series={[{ pts: gLow, color: BLUE }, { pts: gHigh, color: RED }]} />
      <GPlot p={pH} series={[{ pts: hHigh, color: RED }, { pts: hLow, color: GREEN }]} />
      <GPlot p={pI} series={[{ pts: iHigh, color: RED }, { pts: iLow, color: GREEN }]} />
      <GPlot p={pJ} series={[{ pts: jHigh, color: RED }, { pts: jLow, color: BLUE }]} />
      <GPlot p={pK} series={[{ pts: kHigh, color: RED }, { pts: kLow, color: GREEN }]} />
      <GPlot p={pL} series={[{ pts: lHigh, color: RED }, { pts: lLow, color: GREEN }]} />
    </svg>
  );
}
